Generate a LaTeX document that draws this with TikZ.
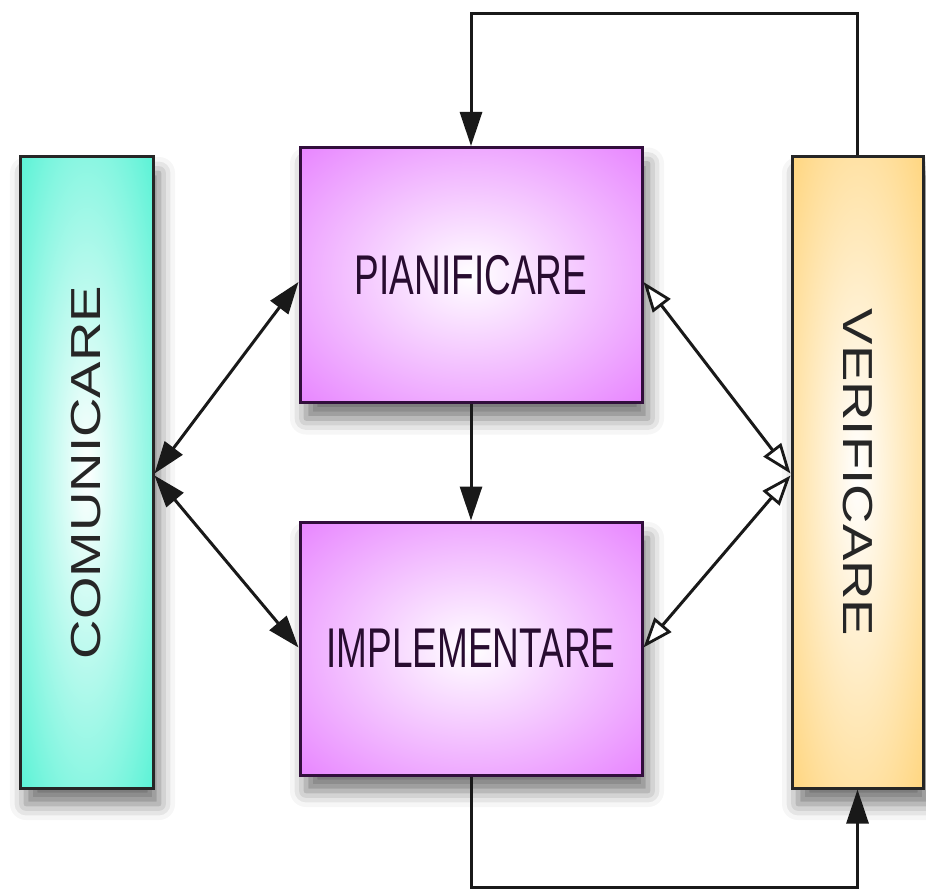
\documentclass[tikz,border=0pt]{standalone}
\usepackage{fontspec}
\setmainfont{Liberation Sans}
\usetikzlibrary{arrows.meta,shadows.blur,calc}
\definecolor{tealc}{RGB}{60,240,206}
\definecolor{magc}{RGB}{226,104,255}
\definecolor{orac}{RGB}{255,206,104}
\definecolor{purtext}{RGB}{40,12,48}
\definecolor{purline}{RGB}{50,14,60}
\pgfdeclareradialshading{tealrad}{\pgfpoint{0bp}{0bp}}{color(0bp)=(white); color(42bp)=(tealc); color(100bp)=(tealc)}
\pgfdeclareradialshading{magrad}{\pgfpoint{0bp}{0bp}}{color(0bp)=(white); color(44bp)=(magc); color(100bp)=(magc)}
\pgfdeclareradialshading{orarad}{\pgfpoint{0bp}{0bp}}{color(0bp)=(white); color(42bp)=(orac); color(100bp)=(orac)}
\newcommand{\htxt}[1]{\scalebox{0.66}[1]{#1}}
\newcommand{\vtxt}[2]{\rotatebox{#1}{\scalebox{1.3}[1]{#2}}}
\tikzset{
  boxshape/.style={rectangle, draw, line width=3pt, inner sep=0pt,
    blur shadow={shadow xshift=6pt, shadow yshift=-16pt, shadow blur radius=16pt, shadow opacity=55}},
  tealbox/.style={boxshape, shading=tealrad, draw=black!85, text=black!85,
    font=\fontsize{42}{42}\selectfont},
  magbox/.style={boxshape, shading=magrad, draw=purline, text=purtext,
    font=\fontsize{56}{56}\selectfont},
  orabox/.style={boxshape, shading=orarad, draw=black!85, text=black!85,
    font=\fontsize{42}{42}\selectfont},
  conn/.style={line width=3pt, draw=black!90},
  fullhead/.style={-{Triangle[length=34pt,width=22pt]}},
  fulltwo/.style={{Triangle[length=32pt,width=22pt]}-{Triangle[length=32pt,width=22pt]}},
  opentwo/.style={{Triangle[open,fill=white,length=30pt,width=22pt,line width=2.8pt]}-{Triangle[open,fill=white,length=30pt,width=22pt,line width=2.8pt]}}
}
\begin{document}
\begin{tikzpicture}[x=1pt,y=-1pt]
\useasboundingbox (0,0) rectangle (926,890);
\node[tealbox, minimum width=133pt, minimum height=631pt] (com) at (86.5,472.5) {\vtxt{90}{COMUNICARE}};
\node[orabox, minimum width=131pt, minimum height=631pt] (ver) at (857.5,472.5) {\vtxt{-90}{VERIFICARE}};
\node[magbox, minimum width=342pt, minimum height=255pt] (pian) at (471,275) {\htxt{PIANIFICARE}};
\node[magbox, minimum width=342pt, minimum height=253pt] (impl) at (471,648.5) {\htxt{IMPLEMENTARE}};
\coordinate (top) at (858,14);
\coordinate (bot) at (471,887);
% diagonal connectors
\draw[conn, fulltwo] ($(com.east)+(0,1)$) -- ($(pian.west)+(0,7)$);
\draw[conn, fulltwo] ($(com.east)+(0,3)$) -- ($(impl.west)+(0,-1)$);
\draw[conn, opentwo] ($(pian.east)+(0,7)$) -- ($(ver.west)+(0,1)$);
\draw[conn, opentwo] ($(impl.east)+(0,-1)$) -- ($(ver.west)+(0,3)$);
% vertical
\draw[conn, fullhead] (pian.south) -- (impl.north);
\draw[conn, fullhead] (ver.north) -- (ver.north |- top) -| (pian.north);
\draw[conn, fullhead] (impl.south) -- (bot) -| (ver.south);
\end{tikzpicture}
\end{document}
